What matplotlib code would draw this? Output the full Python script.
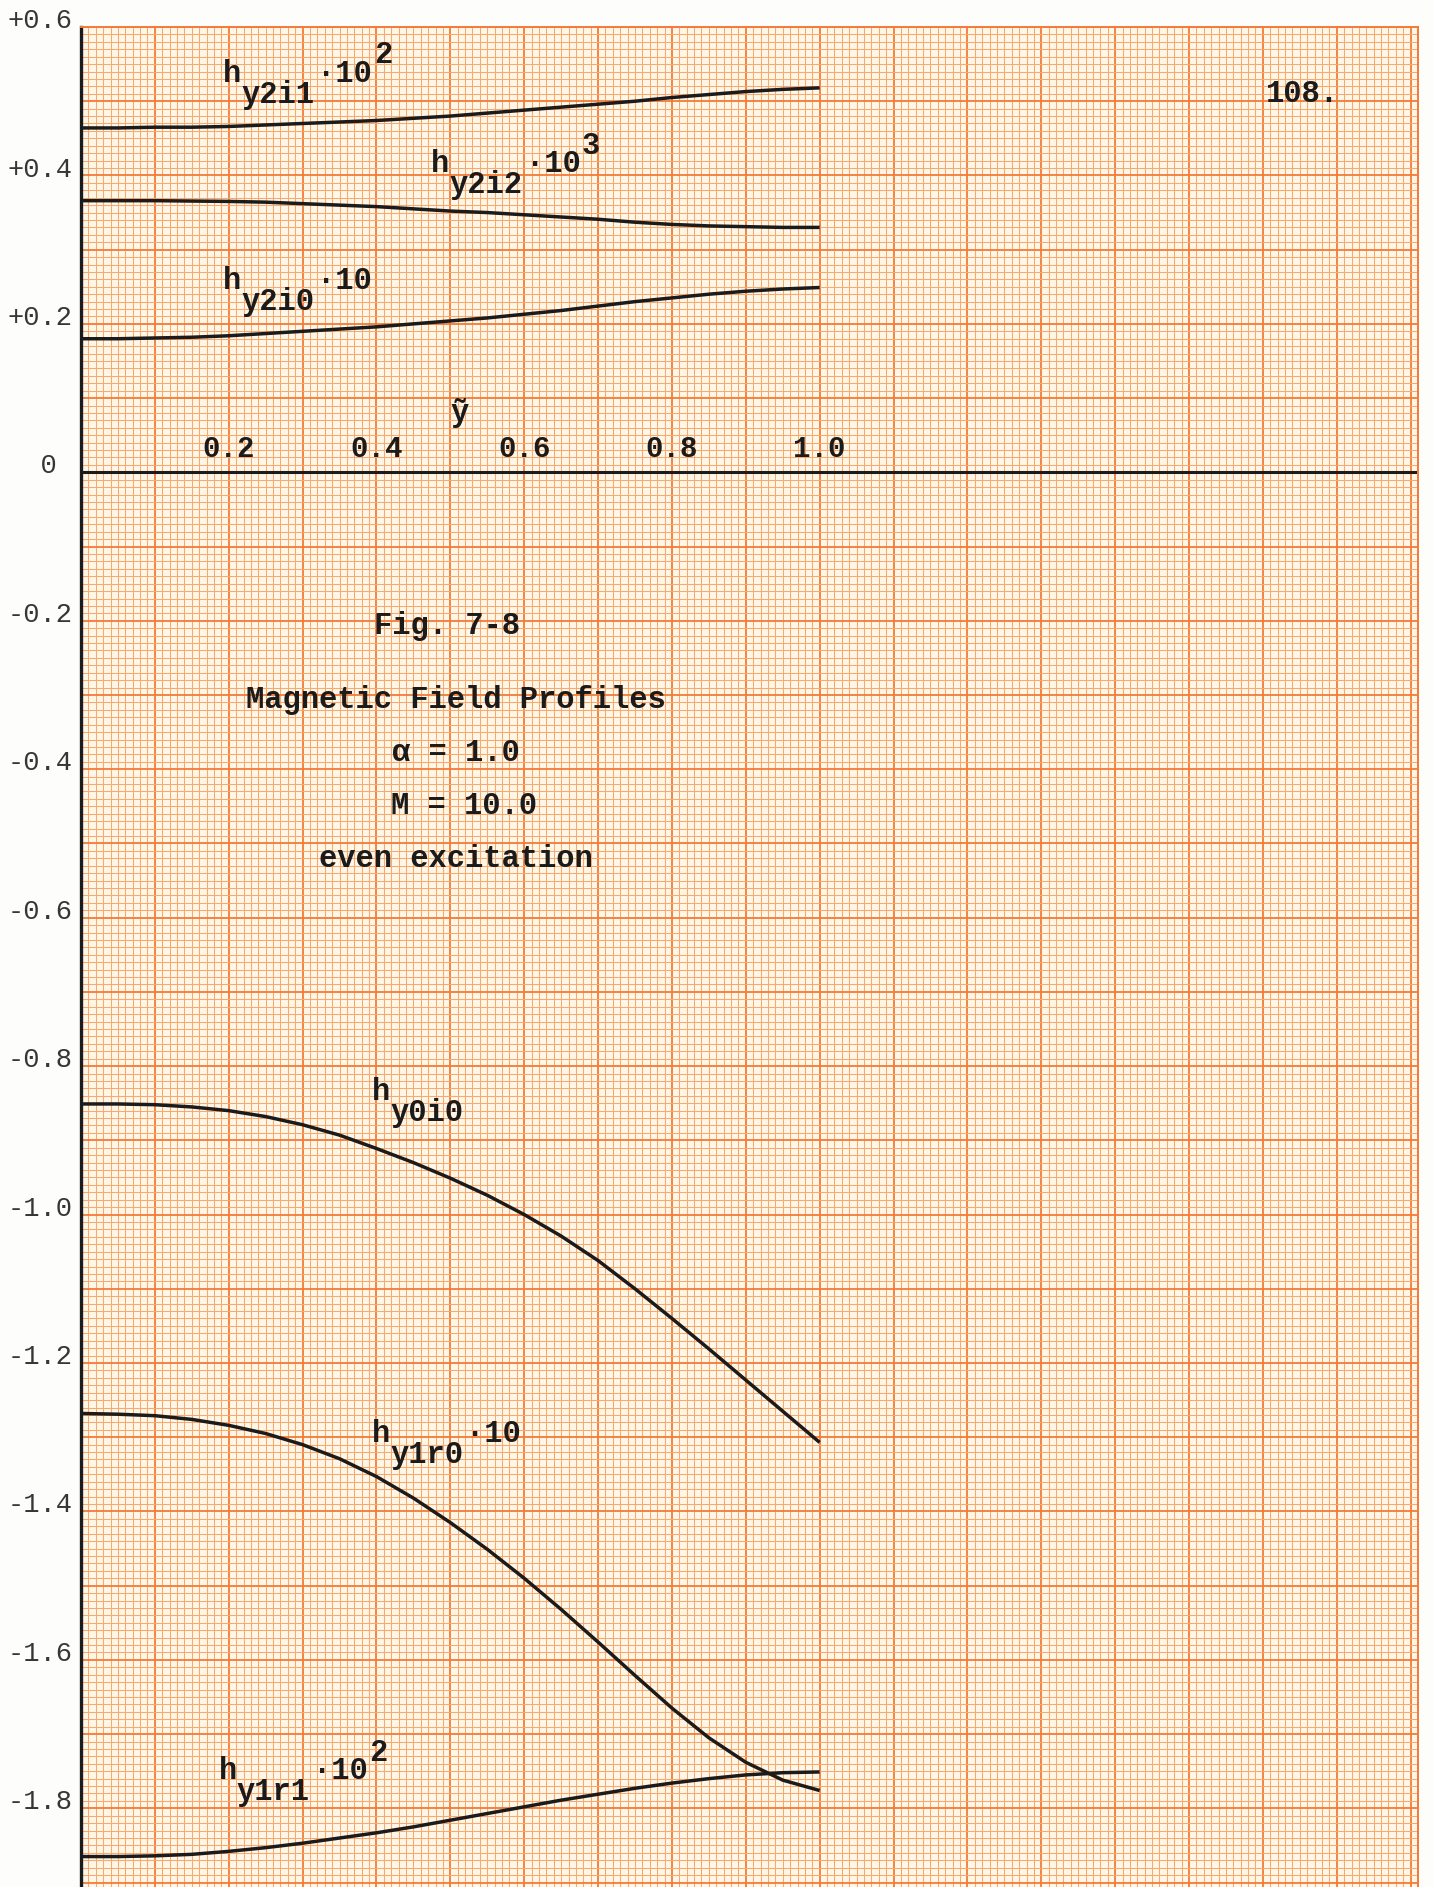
import numpy as np
import matplotlib
matplotlib.use('Agg')
import matplotlib.pyplot as plt
from matplotlib.transforms import offset_copy

# ---- data (y-tilde from 0 to 1 in steps of 0.05) ----
y_tilde = [0.0, 0.05, 0.1, 0.15, 0.2, 0.25, 0.3, 0.35, 0.4, 0.45, 0.5,
           0.55, 0.6, 0.65, 0.7, 0.75, 0.8, 0.85, 0.9, 0.95, 1.0]

hy2i1 = [0.464, 0.464, 0.465, 0.465, 0.466, 0.468, 0.470, 0.472, 0.474, 0.477, 0.480,
         0.484, 0.488, 0.492, 0.496, 0.500, 0.505, 0.509, 0.513, 0.516, 0.518]
hy2i2 = [0.366, 0.366, 0.366, 0.3655, 0.365, 0.364, 0.362, 0.360, 0.358, 0.355, 0.352,
         0.350, 0.347, 0.344, 0.341, 0.337, 0.334, 0.332, 0.331, 0.330, 0.330]
hy2i0 = [0.180, 0.180, 0.181, 0.182, 0.184, 0.187, 0.190, 0.193, 0.196, 0.200, 0.204,
         0.208, 0.213, 0.218, 0.224, 0.230, 0.235, 0.240, 0.244, 0.247, 0.249]
hy0i0 = [-0.851, -0.851, -0.852, -0.855, -0.860, -0.868, -0.879, -0.893, -0.911, -0.930, -0.951,
         -0.974, -1.000, -1.029, -1.062, -1.100, -1.140, -1.181, -1.223, -1.265, -1.307]
hy1r0 = [-1.268, -1.269, -1.271, -1.276, -1.284, -1.295, -1.310, -1.329, -1.353, -1.382, -1.415,
         -1.451, -1.490, -1.532, -1.576, -1.621, -1.665, -1.705, -1.738, -1.762, -1.776]
hy1r1 = [-1.865, -1.865, -1.864, -1.862, -1.858, -1.853, -1.847, -1.840, -1.833, -1.825, -1.816,
         -1.807, -1.798, -1.789, -1.781, -1.773, -1.766, -1.760, -1.755, -1.752, -1.751]

ytick_vals = [0.6, 0.4, 0.2, 0.0, -0.2, -0.4, -0.6, -0.8, -1.0, -1.2, -1.4, -1.6, -1.8]
ytick_text = ['+0.6', '+0.4', '+0.2', '  0', '-0.2', '-0.4', '-0.6', '-0.8',
              '-1.0', '-1.2', '-1.4', '-1.6', '-1.8']
xtick_vals = [0.2, 0.4, 0.6, 0.8, 1.0]
xtick_text = ['0.2', '0.4', '0.6', '0.8', '1.0']

title_lines = ['Fig. 7-8', 'Magnetic Field Profiles', '\u03b1 = 1.0', 'M = 10.0', 'even excitation']

# ---- look ----
MONO = ['Liberation Mono', 'DejaVu Sans Mono']
INK = '#1b1b1b'
PAPER = '#fff6e6'
MINOR = '#f8a96f'
MAJOR = '#f37a38'
FS = 22
ADV = 0.6 * FS     # monospace advance in points
DROP = 15          # subscript drop, points
RISE = 13.5        # superscript rise, points

fig = plt.figure(figsize=(14.34, 18.87), dpi=100, facecolor='#fdfdfb')
ax = fig.add_axes([81 / 1434, 0.0, 1337 / 1434, 1860 / 1887])
ax.set_facecolor(PAPER)
ax.set_xlim(0, 1.81)
ax.set_ylim(-1.906, 0.6)

# graph paper
ax.set_xticks(np.round(np.arange(0, 1.81, 0.1), 2))
ax.set_xticks(np.round(np.arange(0, 1.811, 0.01), 3), minor=True)
ax.set_yticks(np.round(np.arange(-1.9, 0.61, 0.1), 2))
ax.set_yticks(np.round(np.arange(-1.9, 0.601, 0.01), 3), minor=True)
ax.grid(which='minor', color=MINOR, lw=0.75)
ax.grid(which='major', color=MAJOR, lw=1.3)
ax.set_axisbelow(True)
ax.tick_params(which='both', length=0, labelbottom=False, labelleft=False)
for s in ['left', 'bottom']:
    ax.spines[s].set_visible(False)
for s in ['top', 'right']:
    ax.spines[s].set_color(MAJOR)
    ax.spines[s].set_linewidth(1.4)

# axes lines
ax.axvline(0, color=INK, lw=2.4, clip_on=False)
ax.axhline(0, color=INK, lw=2.2)

# curves
for ys in [hy2i1, hy2i2, hy2i0, hy0i0, hy1r0, hy1r1]:
    ax.plot(y_tilde, ys, color=INK, lw=2.5, solid_capstyle='butt', solid_joinstyle='round')

txt = dict(family=MONO, fontweight='bold', color=INK)


def curve_label(x, y, sub, tail='', sup=''):
    kw = dict(fontsize=FS, ha='left', va='baseline', **txt)
    ax.text(x, y, 'h', **kw)
    ax.text(x, y, sub, transform=offset_copy(ax.transData, fig=fig, x=ADV, y=-DROP, units='points'), **kw)
    dx = ADV * (1 + len(sub)) + 2
    if tail:
        ax.text(x, y, tail, transform=offset_copy(ax.transData, fig=fig, x=dx, y=0, units='points'), **kw)
    if sup:
        ax.text(x, y, sup, transform=offset_copy(ax.transData, fig=fig, x=dx + ADV * len(tail) + 1, y=RISE,
                                                 units='points'), **kw)


curve_label(0.192, 0.5256, 'y2i1', '\u00b710', '2')
curve_label(0.474, 0.404, 'y2i2', '\u00b710', '3')
curve_label(0.192, 0.2466, 'y2i0', '\u00b710')
curve_label(0.394, -0.846, 'y0i0')
curve_label(0.394, -1.307, 'y1r0', '\u00b710')
curve_label(0.186, -1.761, 'y1r1', '\u00b710', '2')

# y tick labels typed in the left margin
for v, s in zip(ytick_vals, ytick_text):
    ax.text(-0.0546, v + 0.008, s, transform=ax.get_yaxis_transform(), ha='left', va='center',
            fontsize=19.5, family=MONO, color='#363636')

# x tick labels typed above the axis
for v, s in zip(xtick_vals, xtick_text):
    ax.text(v, 0.020, s, ha='center', va='baseline', fontsize=21, **txt)
ax.text(0.513, 0.0795, '\u1ef9', ha='center', va='center', fontsize=FS, **txt)

# page number
ax.text(1.604, 0.4987, '108.', ha='left', va='baseline', fontsize=FS, **txt)

# caption block
title_x = [0.495, 0.507, 0.508, 0.519, 0.507]
title_y = [-0.218, -0.317, -0.3895, -0.461, -0.532]
for s, tx, ty in zip(title_lines, title_x, title_y):
    ax.text(tx, ty, s, ha='center', va='baseline', fontsize=FS, **txt)

fig.savefig('out.png', dpi=100, facecolor=fig.get_facecolor())
